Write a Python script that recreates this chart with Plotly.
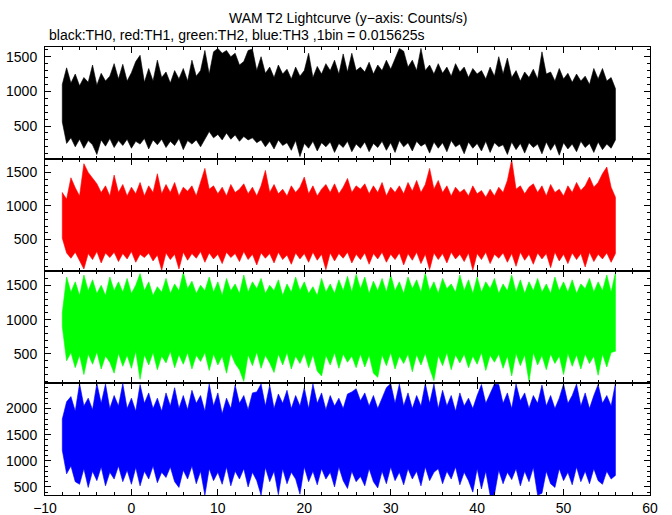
import plotly.graph_objects as go
from plotly.subplots import make_subplots

# Envelope (max / min per 0.5 s) of each lightcurve
T_START = -8.0
T_STEP = 0.5

th0_hi = [1100,1340,1120,1250,1080,1200,1130,1380,1090,1260,
          1150,1220,1400,1180,1390,1150,1270,1430,1520,1130,
          1330,1150,1450,1200,1280,1120,1300,1180,1330,1150,
          1450,1220,1300,1590,1250,1570,1620,1550,1590,1500,
          1550,1380,1430,1590,1610,1300,1500,1260,1350,1200,
          1380,1250,1320,1180,1350,1220,1300,1550,1200,1360,
          1250,1400,1300,1450,1250,1540,1280,1550,1300,1350,
          1280,1420,1250,1380,1300,1450,1320,1470,1620,1580,
          1350,1450,1300,1620,1300,1380,1250,1400,1260,1350,
          1220,1400,1280,1350,1200,1330,1250,1300,1180,1350,
          1220,1500,1250,1480,1200,1300,1150,1280,1200,1320,
          1180,1570,1250,1280,1150,1330,1180,1260,1130,1250,
          1150,1220,1100,1330,1180,1330,1150,1200,1040]
th0_lo = [560,250,330,200,310,180,290,230,90,300,
          210,320,190,290,220,310,180,280,240,320,
          170,300,230,310,190,280,220,320,160,290,
          240,300,200,320,420,330,380,300,400,310,
          370,280,350,300,330,260,300,200,280,170,
          300,220,260,150,290,60,250,180,280,140,
          260,200,270,120,250,190,280,130,240,180,
          270,130,250,190,280,150,260,120,290,200,
          260,140,280,210,250,110,270,180,260,130,
          290,200,240,100,270,180,250,140,280,120,
          260,200,230,90,270,160,250,110,260,190,
          240,100,270,150,250,80,260,170,240,130,
          280,190,250,120,270,160,240,180,300]

th1_hi = [1200,1100,1420,1270,1150,1630,1500,1420,1330,1200,
          1300,1150,1460,1200,1320,1150,1280,1180,1350,1150,
          1300,1200,1480,1180,1320,1200,1350,1150,1280,1220,
          1300,1150,1350,1560,1250,1300,1180,1280,1150,1320,
          1200,1250,1330,1180,1280,1150,1300,1530,1200,1320,
          1180,1250,1150,1300,1200,1280,1430,1180,1300,1150,
          1250,1320,1200,1330,1180,1280,1410,1200,1300,1250,
          1330,1180,1300,1200,1350,1150,1280,1200,1300,1180,
          1350,1220,1380,1200,1320,1560,1250,1380,1200,1300,
          1150,1280,1200,1250,1150,1300,1180,1230,1130,1250,
          1150,1280,1200,1380,1690,1250,1300,1180,1280,1330,
          1200,1300,1150,1320,1200,1250,1150,1300,1200,1350,
          1230,1300,1430,1280,1350,1480,1580,1280,1130]
th1_lo = [520,300,220,310,180,60,290,200,320,150,
          300,230,310,170,290,210,320,160,280,230,
          300,180,270,40,300,200,280,60,310,190,
          290,220,320,160,300,210,280,140,310,230,
          290,170,320,200,280,120,300,220,290,150,
          310,200,270,130,300,210,290,160,310,190,
          280,50,300,180,290,220,310,150,280,200,
          300,130,290,210,310,160,280,200,300,120,
          290,190,310,140,280,50,300,200,290,150,
          310,210,280,170,300,40,290,200,310,140,
          280,220,300,160,290,100,310,190,280,130,
          300,210,290,80,310,180,280,140,300,200,
          290,90,310,170,280,210,300,160,290]

th2_hi = [1100,1620,1400,1550,1350,1650,1420,1580,1380,1500,
          1350,1620,1420,1550,1400,1600,1380,1500,1670,1420,
          1550,1350,1480,1400,1600,1380,1520,1420,1690,1450,
          1560,1380,1500,1420,1620,1400,1550,1350,1600,1420,
          1520,1380,1650,1400,1550,1450,1600,1380,1500,1420,
          1580,1350,1520,1400,1620,1420,1550,1380,1480,1350,
          1600,1400,1520,1380,1580,1420,1630,1400,1660,1450,
          1620,1380,1560,1420,1600,1400,1650,1420,1550,1380,
          1620,1450,1580,1400,1680,1420,1550,1380,1600,1450,
          1520,1400,1650,1420,1580,1380,1620,1400,1550,1450,
          1600,1380,1520,1420,1650,1400,1580,1380,1550,1420,
          1600,1400,1520,1380,1620,1420,1550,1400,1580,1380,
          1520,1450,1600,1400,1550,1420,1650,1400,1680]
th2_lo = [900,400,520,300,480,200,500,350,530,280,
          470,380,220,510,320,480,290,540,130,490,
          340,520,270,470,370,540,300,490,350,520,
          280,480,390,520,260,500,340,470,220,510,
          360,270,100,490,330,530,290,480,370,230,
          500,340,520,280,470,360,510,300,490,250,
          180,480,340,520,290,500,380,470,300,500,
          310,480,220,160,490,330,520,280,470,360,
          500,240,490,340,510,290,110,480,330,520,
          270,490,370,500,300,470,350,520,260,480,
          380,500,290,470,180,510,330,490,100,520,
          340,480,270,500,360,470,200,510,320,490,
          280,500,360,470,190,500,310,520,540]

th3_hi = [1800,2130,2230,1950,2480,2050,2200,1980,2480,2100,
          2470,2000,2250,2050,2480,2000,2200,1950,2460,2100,
          2300,2000,2200,1950,2300,2050,2400,2000,2250,1980,
          2350,2100,2250,1950,2470,2050,2300,1900,2200,2000,
          2450,2100,2250,1980,2300,2320,2470,2050,2450,2000,
          2280,2100,2350,2000,2250,2050,2400,2000,2470,2100,
          2300,1980,2250,2050,2200,2000,2280,2320,2380,2150,
          2300,2050,2250,2000,2200,2400,2480,2100,2470,2050,
          2300,2000,2250,2050,2480,2100,2470,2000,2350,2050,
          2250,1950,2300,2050,2200,2000,2250,2460,2100,2300,
          2470,2460,2100,2300,2000,2470,2150,2300,2000,2250,
          2100,2450,2050,2250,2000,2200,2470,2100,2250,2470,
          2050,2300,2000,2250,2460,2100,2250,2050,2480]
th3_lo = [1200,750,900,600,550,850,490,800,620,880,
          520,780,650,900,600,820,550,870,520,800,
          650,900,580,780,680,880,600,490,820,650,
          900,560,800,340,850,620,780,550,880,520,
          800,650,850,500,780,620,340,870,600,800,
          350,850,560,780,650,360,880,600,800,540,
          850,650,780,500,880,620,470,800,600,700,
          520,850,600,480,800,560,880,620,780,540,
          850,650,800,520,880,620,780,850,560,800,
          650,880,540,780,620,400,850,460,800,340,
          350,820,560,780,640,850,520,800,600,870,
          340,380,800,560,490,850,620,780,540,880,
          600,800,560,850,620,550,800,650,720]

series = [
    ("TH0", th0_hi, th0_lo, "#000000", [25, 1640]),
    ("TH1", th1_hi, th1_lo, "#ff0000", [30, 1700]),
    ("TH2", th2_hi, th2_lo, "#00ff00", [77, 1708]),
    ("TH3", th3_hi, th3_lo, "#0000ff", [345, 2490]),
]

FONT = "Liberation Sans, Arial, Helvetica, sans-serif"

fig = make_subplots(rows=4, cols=1, shared_xaxes=True, vertical_spacing=0)

for i, (name, hi, lo, color, yr) in enumerate(series, start=1):
    t = [T_START + T_STEP * k for k in range(len(hi))]
    tl = [T_START + T_STEP * k for k in range(len(lo))]
    xs = t + tl[::-1] + [t[0]]
    ys = hi + lo[::-1] + [hi[0]]
    fig.add_trace(go.Scatter(x=xs, y=ys, mode="lines", fill="toself",
                             fillcolor=color,
                             line=dict(color=color, width=0.6),
                             name=name, showlegend=False,
                             hoverinfo="skip"), row=i, col=1)
    fig.update_yaxes(range=yr, dtick=500, tick0=0, ticks="inside", ticklen=6,
                     tickwidth=1, tickcolor="black",
                     minor=dict(dtick=100, ticks="inside", ticklen=3,
                                tickcolor="black", tickwidth=1),
                     showline=True, linecolor="black", linewidth=1,
                     mirror="allticks", showgrid=False, zeroline=False,
                     automargin=False,
                     tickfont=dict(family=FONT, size=14, color="black"),
                     ticklabelstandoff=4,
                     row=i, col=1)
    fig.update_xaxes(range=[-10, 60], dtick=10, tick0=0, ticks="inside",
                     ticklen=6, tickwidth=1, tickcolor="black",
                     minor=dict(dtick=2, ticks="inside", ticklen=3,
                                tickcolor="black", tickwidth=1),
                     showline=True, linecolor="black", linewidth=1,
                     mirror="allticks", showgrid=False, zeroline=False,
                     automargin=False,
                     showticklabels=(i == 4),
                     tickfont=dict(family=FONT, size=14, color="black"),
                     row=i, col=1)

fig.update_layout(
    width=672, height=515,
    margin=dict(l=45, r=22, t=47, b=20),
    paper_bgcolor="white", plot_bgcolor="white",
    font=dict(family=FONT, size=14, color="black"),
    annotations=[
        dict(text="WAM T2 Lightcurve (y\u2212axis: Counts/s)", xref="paper",
             yref="paper", x=0.5, y=1.0647, xanchor="center",
             yanchor="middle", showarrow=False,
             font=dict(family=FONT, size=14, color="black")),
        dict(text="black:TH0, red:TH1, green:TH2, blue:TH3 ,1bin = 0.015625s",
             xref="paper", yref="paper", x=0.003, y=1.0268, xanchor="left",
             yanchor="middle", showarrow=False,
             font=dict(family=FONT, size=14, color="black")),
    ],
)

fig.write_html("out.html", config={"displayModeBar": False},
               post_script="document.body.style.margin='0';")
